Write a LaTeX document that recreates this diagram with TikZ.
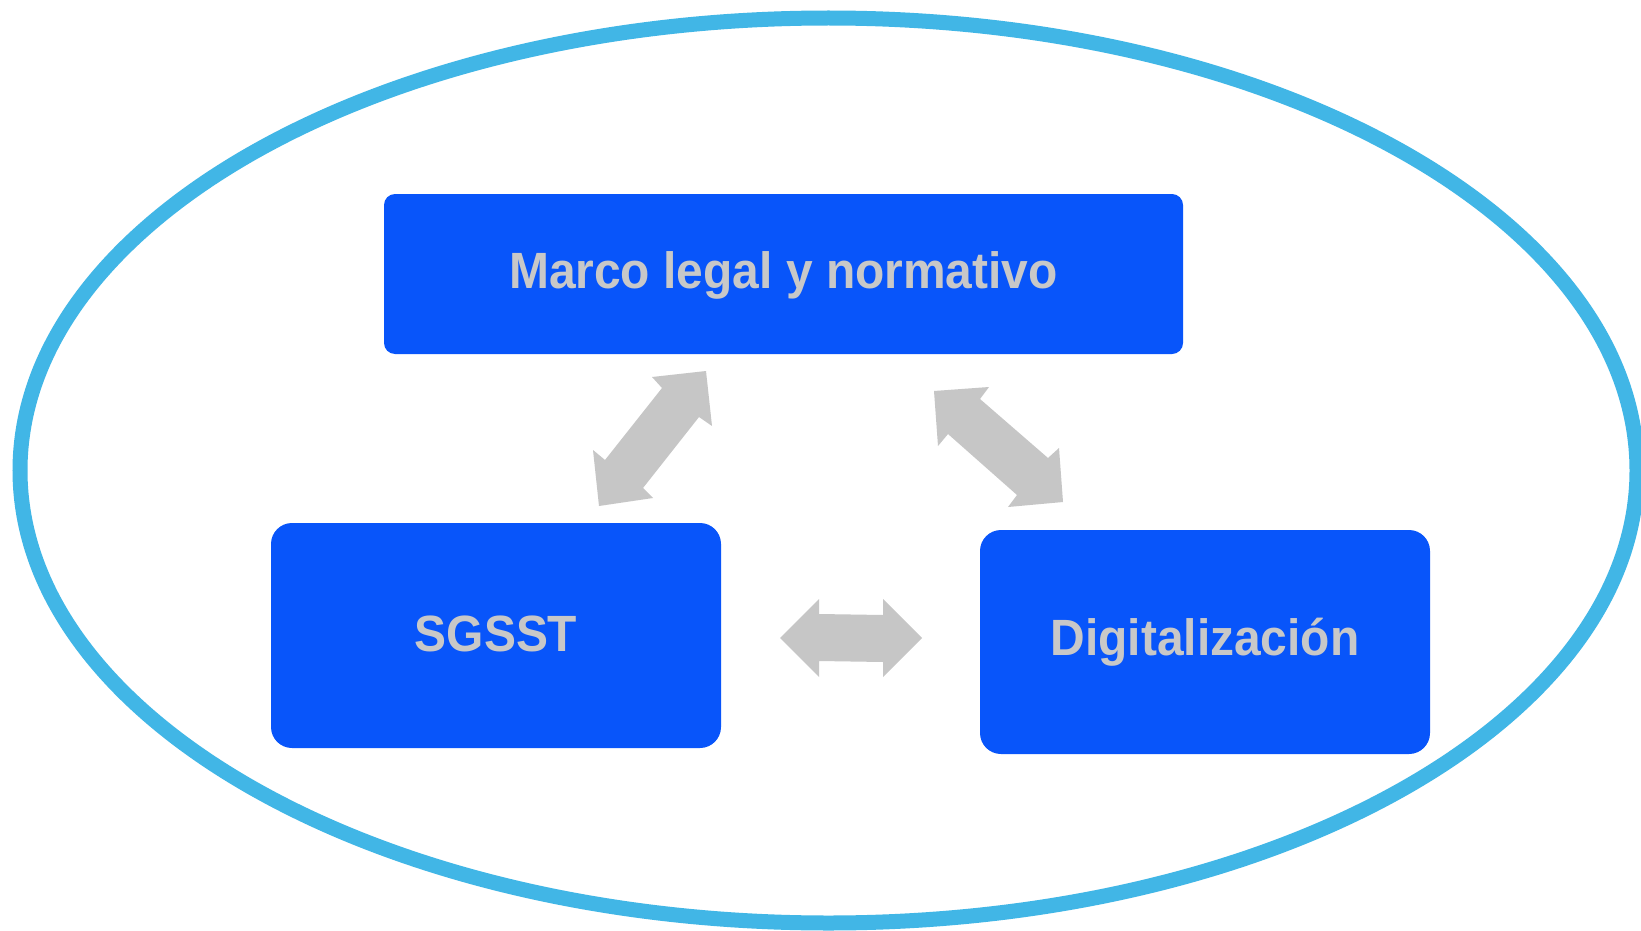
\documentclass[tikz,border=0pt]{standalone}
\usepackage{fontspec}
\setmainfont{Liberation Sans}
\definecolor{boxblue}{HTML}{0855FA}
\definecolor{txtgray}{HTML}{C8C8C8}
\definecolor{arrgray}{HTML}{C6C6C6}
\definecolor{ringblue}{HTML}{41B6E6}
\tikzset{
  blockbox/.style={fill=boxblue, draw=none, inner sep=0pt},
  blocktext/.style={text=txtgray, font=\fontsize{51}{51}\selectfont\bfseries},
  blockarrow/.style={fill=arrgray, draw=none},
}
\newcommand{\cond}[1]{\scalebox{0.94}[1]{#1}}
\begin{document}
\begin{tikzpicture}[x=1pt,y=-1pt]
\useasboundingbox (0,0) rectangle (1641,931);
\clip (0,0) rectangle (1641,931);
\fill[white] (0,0) rectangle (1641,931);
% ring
\draw[ringblue, line width=15pt] (828.5,470.5) ellipse [x radius=808.5, y radius=452.5];
% boxes
\fill[blockbox, rounded corners=11pt] (384,194) rectangle (1183,354);
\node[blocktext] (marco) at (783.5,275) {\cond{Marco legal y normativo}};
\fill[blockbox, rounded corners=21pt] (271,523) rectangle (721,748);
\node[blocktext] (sgsst) at (496,634) {\cond{SGSST}};
\fill[blockbox, rounded corners=21pt] (980,530) rectangle (1430,754);
\node[blocktext] (digi) at (1205,642) {\cond{Digitalización}};
% block arrows
\fill[blockarrow] (706,371) -- (652,377) -- (662,388) -- (605,460) -- (593,450)
  -- (599,506) -- (653,498) -- (643,488) -- (699,417) -- (712,426) -- cycle;
\fill[blockarrow] (934,391) -- (989,387) -- (980,399) -- (1048,458) -- (1059,448)
  -- (1063,502) -- (1008,507) -- (1017,495) -- (948,434) -- (938,446) -- cycle;
\fill[blockarrow] (780,638) -- (819,599) -- (819,614) -- (883,615) -- (883,599)
  -- (922,638) -- (883,677) -- (883,662) -- (819,661) -- (819,677) -- cycle;
\end{tikzpicture}
\end{document}
